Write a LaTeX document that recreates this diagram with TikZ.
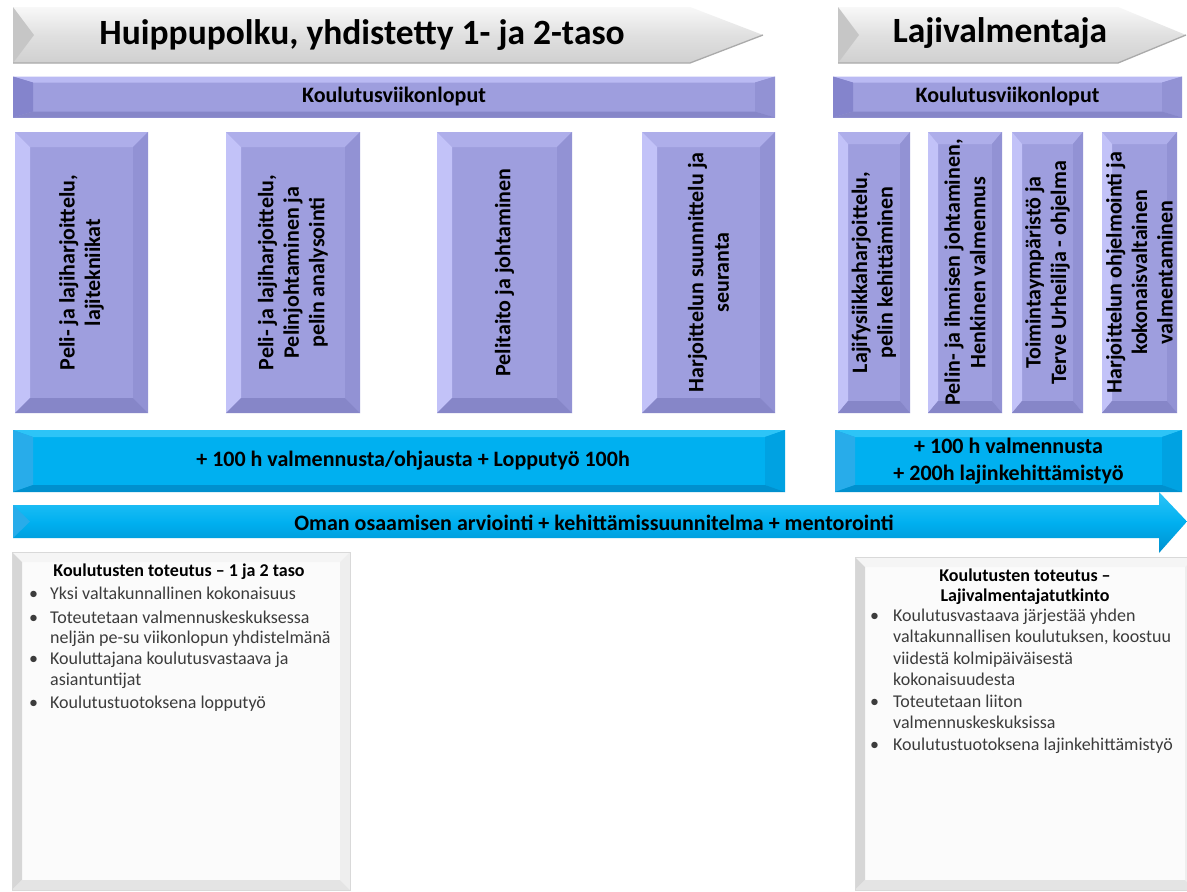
\documentclass[tikz,border=0pt]{standalone}
\usepackage{fontspec}
\setmainfont{Carlito}
\usetikzlibrary{calc}
\definecolor{pface}{RGB}{158,158,222}
\definecolor{ptop}{RGB}{174,174,234}
\definecolor{pleft}{RGB}{194,194,248}
\definecolor{pright}{RGB}{146,146,212}
\definecolor{pbot}{RGB}{134,134,200}
\definecolor{kleft}{RGB}{132,132,204}
\definecolor{ktop}{RGB}{186,186,243}
\definecolor{bface}{RGB}{0,176,240}
\definecolor{btop}{RGB}{45,196,247}
\definecolor{bleft}{RGB}{40,172,234}
\definecolor{bright}{RGB}{0,162,226}
\definecolor{bbot}{RGB}{0,144,206}
\definecolor{hdtop}{RGB}{248,248,248}
\definecolor{hdmid}{RGB}{224,224,224}
\definecolor{hdbot}{RGB}{208,208,208}
\definecolor{hdleft}{RGB}{198,198,198}
\definecolor{hdline}{RGB}{170,170,170}
\definecolor{gface}{RGB}{251,251,251}
\definecolor{gtop}{RGB}{245,245,245}
\definecolor{gleft}{RGB}{214,214,214}
\definecolor{gright}{RGB}{238,238,238}
\definecolor{gbot}{RGB}{228,228,228}
\definecolor{txtgray}{RGB}{60,60,60}
\newcommand\bvl[6]{%
 \fill[#1] let \p1=(path picture bounding box.north west), \p2=(path picture bounding box.south east) in (\x1,\y1) -- (\x2,\y1) -- (\x2-#5pt,\y1-#6pt) -- (\x1+#5pt,\y1-#6pt) -- cycle;
 \fill[#2] let \p1=(path picture bounding box.north west), \p2=(path picture bounding box.south east) in (\x1,\y1) -- (\x1+#5pt,\y1-#6pt) -- (\x1+#5pt,\y2+#6pt) -- (\x1,\y2) -- cycle;
 \fill[#3] let \p1=(path picture bounding box.north west), \p2=(path picture bounding box.south east) in (\x2,\y1) -- (\x2-#5pt,\y1-#6pt) -- (\x2-#5pt,\y2+#6pt) -- (\x2,\y2) -- cycle;
 \fill[#4] let \p1=(path picture bounding box.north west), \p2=(path picture bounding box.south east) in (\x1,\y2) -- (\x1+#5pt,\y2+#6pt) -- (\x2-#5pt,\y2+#6pt) -- (\x2,\y2) -- cycle;
}
\newcommand\fsz[2]{\fontsize{#1}{#2}\selectfont}
\tikzset{
 hdtext/.style={font=\fsz{35.5}{40}\bfseries, text=black, inner sep=0pt},
 kbar/.style={rectangle, fill=pface, inner sep=0pt, font=\fsz{22}{26}\bfseries,
   path picture={\bvl{ktop}{kleft}{pright}{pbot}{20}{6}}},
 pbox/.style={rectangle, fill=pface, inner sep=0pt, minimum height=281pt,
   path picture={\bvl{ptop}{pleft}{pright}{pbot}{15}{15}}},
 pnarrow/.style={rectangle, fill=pface, inner sep=0pt, minimum height=281pt,
   path picture={\bvl{ptop}{pleft}{pright}{pbot}{10}{12}}},
 vtext/.style={rotate=90, align=center, inner sep=0pt, font=\fsz{22}{25.5}\bfseries, text=black},
 bbar/.style={rectangle, fill=bface, inner sep=0pt, align=center, font=\fsz{22}{27}\bfseries,
   path picture={\bvl{btop}{bleft}{bright}{bbot}{20}{7}}},
 gbox/.style={rectangle, fill=gface, draw=gray!30, line width=0.6pt, inner sep=0pt,
   path picture={\bvl{gtop}{gleft}{gright}{gbot}{10}{10}}},
 ttitle/.style={font=\fsz{18}{20}\bfseries, text=black, align=center, inner sep=0pt},
 tlist/.style={anchor=north west, inner sep=0pt, text=txtgray},
}
\begin{document}
\begin{tikzpicture}[x=1pt,y=1pt]
\useasboundingbox (0,0) rectangle (1187,-892);
\fill[white] (0,0) rectangle (1187,-892);

% --- header arrows
\shade[top color=hdtop, bottom color=hdbot, middle color=hdmid]
  (13,-7) -- (690,-7) -- (763,-35) -- (690,-63) -- (13,-63) -- cycle;
\fill[hdleft] (13,-7) -- (34,-35) -- (13,-63) -- cycle;
\draw[hdline, line width=1.3pt] (13,-63) -- (690,-63) -- (763,-35);
\node[hdtext] (h1) at (362,-35) {Huippupolku, yhdistetty 1- ja 2-taso};

\shade[top color=hdtop, bottom color=hdbot, middle color=hdmid]
  (838,-7) -- (1118,-7) -- (1186,-35) -- (1118,-63) -- (838,-63) -- cycle;
\fill[hdleft] (838,-7) -- (859,-35) -- (838,-63) -- cycle;
\draw[hdline, line width=1.3pt] (838,-63) -- (1118,-63) -- (1186,-35);
\node[hdtext] (h2) at (1000,-33) {Lajivalmentaja};

% --- Koulutusviikonloput bars
\node[kbar, minimum width=762pt, minimum height=41pt] (k1) at (394,-97) {Koulutusviikonloput};
\node[kbar, minimum width=349pt, minimum height=41pt] (k2) at (1007.5,-97) {Koulutusviikonloput};

% --- vertical boxes, left group
\node[pbox, minimum width=133pt] (b1) at (81.5,-272.5) {};
\node[vtext] (t1) at (b1) {Peli- ja lajiharjoittelu,\\ lajitekniikat};
\node[pbox, minimum width=134pt] (b2) at (293,-272.5) {};
\node[vtext] (t2) at (b2) {Peli- ja lajiharjoittelu,\\ Pelinjohtaminen ja\\ pelin analysointi};
\node[pbox, minimum width=135pt] (b3) at (504.5,-272.5) {};
\node[vtext] (t3) at (b3) {Pelitaito ja johtaminen};
\node[pbox, minimum width=133pt] (b4) at (708.5,-272.5) {};
\node[vtext] (t4) at (b4) {Harjoittelun suunnittelu ja\\ seuranta};

% --- vertical boxes, right group
\node[pnarrow, minimum width=72pt] (b5) at (874,-272.5) {};
\node[vtext] (t5) at (b5) {Lajifysiikkaharjoittelu,\\ pelin kehittäminen};
\node[pnarrow, minimum width=74pt] (b6) at (965,-272.5) {};
\node[vtext] (t6) at (b6) {Pelin- ja ihmisen johtaminen,\\ Henkinen valmennus};
\node[pnarrow, minimum width=71pt] (b7) at (1047.5,-272.5) {};
\node[vtext] (t7) at (b7) {Toimintaympäristö ja\\ Terve Urheilija - ohjelma};
\node[pnarrow, minimum width=75pt] (b8) at (1139.5,-272.5) {};
\node[vtext] (t8) at (b8) {Harjoittelun ohjelmointi ja\\ kokonaisvaltainen\\ valmentaminen};

% --- blue bars
\node[bbar, minimum width=772pt, minimum height=62pt] (v1) at (399,-461) {\hspace*{28pt}+ 100 h valmennusta/ohjausta + Lopputyö 100h};
\node[bbar, minimum width=347pt, minimum height=62pt] (v2) at (1008.5,-461) {+ 100 h valmennusta\\ + 200h lajinkehittämistyö};

% --- long blue arrow
\shade[top color=btop, bottom color=bbot, middle color=bface]
  (13,-505) -- (1159,-505) -- (1159,-492) -- (1187,-521.5) -- (1159,-553) -- (1159,-538) -- (13,-538) -- cycle;
\fill[bleft] (13,-505) -- (30,-521.5) -- (13,-538) -- cycle;
\node[font=\fsz{22}{26}\bfseries, inner sep=0pt] (a1) at (594,-523) {Oman osaamisen arviointi + kehittämissuunnitelma + mentorointi};

% --- text boxes
\node[gbox, minimum width=338pt, minimum height=338pt] (g1) at (181,-721) {};
\node[ttitle] (g1t) at (179,-572) {Koulutusten toteutus – 1 ja 2 taso};
\node[tlist] (g1l) at (29,-585) {\fsz{18}{20.5}%
\begin{tabular}{@{}p{21pt}@{}l@{}}
\textbullet & Yksi valtakunnallinen kokonaisuus\\[3pt]
\textbullet & Toteutetaan valmennuskeskuksessa\\
 & neljän pe-su viikonlopun yhdistelmänä\\[0.5pt]
\textbullet & Kouluttajana koulutusvastaava ja\\
 & asiantuntijat\\[3pt]
\textbullet & Koulutustuotoksena lopputyö
\end{tabular}};

\node[gbox, minimum width=340pt, minimum height=333pt] (g2) at (1025,-723.5) {};
\node[ttitle] (g2t) at (1025,-587) {Koulutusten toteutus –\\ Lajivalmentajatutkinto};
\node[tlist] (g2l) at (870,-606) {\fsz{18}{21.5}%
\begin{tabular}{@{}p{23pt}@{}l@{}}
\textbullet & Koulutusvastaava järjestää yhden\\
 & valtakunnallisen koulutuksen, koostuu\\
 & viidestä kolmipäiväisestä\\
 & kokonaisuudesta\\
\textbullet & Toteutetaan liiton\\
 & valmennuskeskuksissa\\
\textbullet & Koulutustuotoksena lajinkehittämistyö
\end{tabular}};
\end{tikzpicture}
\end{document}
